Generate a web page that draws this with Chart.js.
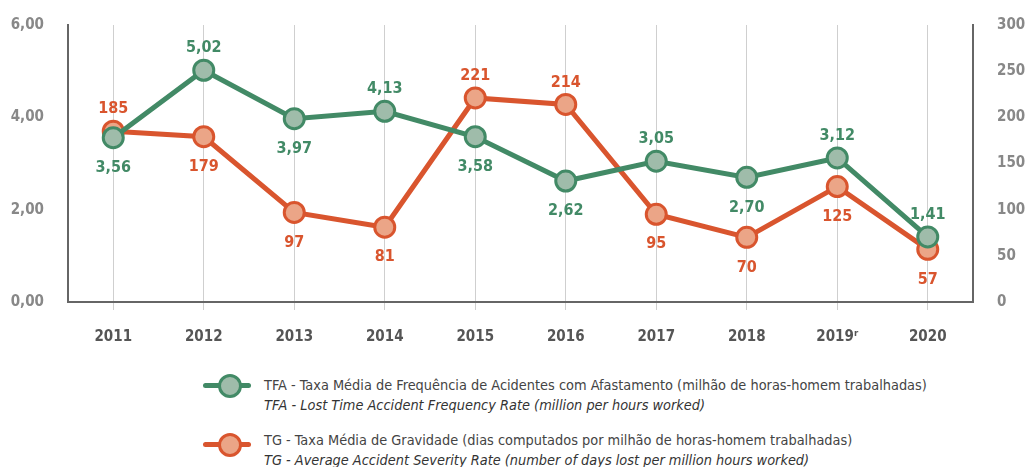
<!DOCTYPE html>
<html>
<head>
<meta charset="utf-8">
<script src="https://cdn.jsdelivr.net/npm/chart.js@4.4.1/dist/chart.umd.min.js"></script>
<style>
    html, body { margin: 0; padding: 0; background: #fff; }
    body { width: 1031px; height: 467px; position: relative; overflow: hidden;
           font-family: 'DejaVu Sans Condensed', Roboto, sans-serif; }
    #wrap { position: absolute; left: 0; top: 0; width: 1031px; height: 355px; }
    .leg { position: absolute; left: 203px; }
    .sym { position: absolute; left: 0; width: 48px; height: 5px; border-radius: 3px; }
    .dot { position: absolute; left: 15px; width: 18px; height: 18px; border-radius: 50%; border: 3px solid; }
    .txt { position: absolute; left: 61px; white-space: nowrap; font-size: 14.4px; line-height: 20px; color: #444; }
    .txt i { color: #333; }
</style>
</head>
<body>
<div id="wrap"><canvas id="chart" width="1031" height="355"></canvas></div>

<div class="leg" style="top:375px">
    <div class="sym" style="top:8px;background:#428a66"></div>
    <div class="dot" style="top:-1px;background:#9fbcaa;border-color:#428a66"></div>
    <div class="txt" style="top:0">TFA - Taxa Média de Frequência de Acidentes com Afastamento (milhão de horas-homem trabalhadas)<br><i>TFA - Lost Time Accident Frequency Rate (million per hours worked)</i></div>
</div>
<div class="leg" style="top:430px">
    <div class="sym" style="top:12px;background:#d9552e"></div>
    <div class="dot" style="top:3px;background:#eba587;border-color:#d9552e"></div>
    <div class="txt" style="top:0">TG - Taxa Média de Gravidade (dias computados por milhão de horas-homem trabalhadas)<br><i>TG - Average Accident Severity Rate (number of days lost per million hours worked)</i></div>
</div>

<script>
const years = ['2011', '2012', '2013', '2014', '2015', '2016', '2017', '2018', '2019\u02B3', '2020'];
const tfa = [3.56, 5.02, 3.97, 4.13, 3.58, 2.62, 3.05, 2.70, 3.12, 1.41];
const tg = [185, 179, 97, 81, 221, 214, 95, 70, 125, 57];
// label above (-1) or below (+1) each point
const tfaSide = [1, -1, 1, -1, 1, 1, -1, 1, -1, -1];
const tgSide = [-1, 1, 1, 1, -1, -1, 1, 1, 1, 1];
const leftTicks = [0, 2, 4, 6];
const rightTicks = [0, 50, 100, 150, 200, 250, 300];

const FONT = "'DejaVu Sans Condensed', Roboto, sans-serif";
const GREEN = '#428a66', GREEN_FILL = '#9fbcaa';
const ORANGE = '#d9552e', ORANGE_FILL = '#eba587';

const fmt = v => v.toFixed(2).replace('.', ',');

/* value labels above / below the points */
const valueLabels = {
    id: 'valueLabels',
    afterDatasetsDraw(chart) {
        const ctx = chart.ctx;
        ctx.save();
        ctx.font = 'bold 16px ' + FONT;
        ctx.textAlign = 'center';
        ctx.textBaseline = 'middle';
        chart.data.datasets.forEach((ds, i) => {
            const meta = chart.getDatasetMeta(i);
            ctx.fillStyle = ds.borderColor;
            meta.data.forEach((pt, j) => {
                const dy = ds.sides[j] < 0 ? -22 : 30;
                ctx.fillText(ds.fmt(ds.data[j]), pt.x, pt.y + dy);
            });
        });
        ctx.restore();
    }
};

const tickFont = { family: FONT, size: 15, weight: 'bold' };

new Chart(document.getElementById('chart').getContext('2d'), {
    type: 'line',
    data: {
        labels: years,
        datasets: [
            {
                data: tfa,
                yAxisID: 'y',
                sides: tfaSide,
                fmt: fmt,
                borderColor: GREEN,
                backgroundColor: GREEN_FILL,
                borderWidth: 5,
                pointRadius: 10,
                pointBorderWidth: 3,
                pointBackgroundColor: GREEN_FILL,
                pointBorderColor: GREEN,
                tension: 0
            },
            {
                data: tg,
                yAxisID: 'y2',
                sides: tgSide,
                fmt: v => String(v),
                borderColor: ORANGE,
                backgroundColor: ORANGE_FILL,
                borderWidth: 5,
                pointRadius: 10,
                pointBorderWidth: 3,
                pointBackgroundColor: ORANGE_FILL,
                pointBorderColor: ORANGE,
                tension: 0
            }
        ]
    },
    options: {
        responsive: false,
        animation: false,
        layout: { padding: { top: 14, left: 0, right: 0, bottom: 0 } },
        plugins: { legend: { display: false }, tooltip: { enabled: false } },
        scales: {
            x: {
                offset: true,
                afterFit: s => { s.height = 53; },
                grid: { color: '#cfcfcf', lineWidth: 1, tickLength: 8 },
                border: { display: true, color: '#666', width: 2 },
                ticks: { color: '#555', padding: 18, font: tickFont }
            },
            y: {
                position: 'left',
                min: 0, max: 6,
                afterFit: s => { s.width = 68; },
                afterBuildTicks: s => { s.ticks = leftTicks.map(v => ({ value: v })); },
                grid: { display: false },
                border: { display: true, color: '#666', width: 2 },
                ticks: { color: '#888', padding: 16, callback: v => fmt(v), font: tickFont }
            },
            y2: {
                position: 'right',
                min: 0, max: 300,
                afterFit: s => { s.width = 58; },
                afterBuildTicks: s => { s.ticks = rightTicks.map(v => ({ value: v })); },
                grid: { display: false },
                border: { display: true, color: '#666', width: 2 },
                ticks: { color: '#888', padding: 16, font: tickFont }
            }
        }
    },
    plugins: [valueLabels]
});
</script>
</body>
</html>
